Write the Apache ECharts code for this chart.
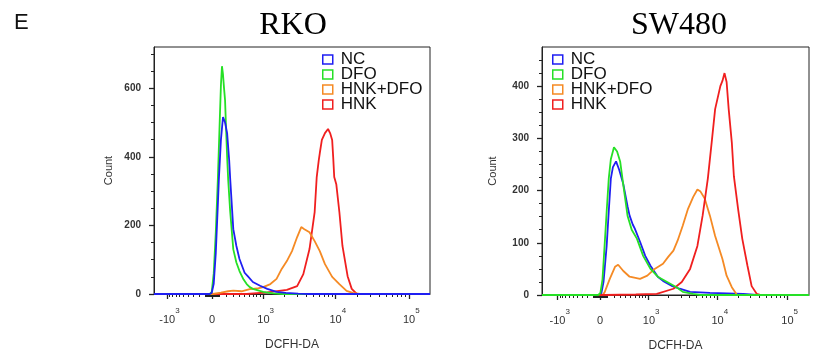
<!DOCTYPE html>
<html>
<head>
<meta charset="UTF-8">
<title>DCFH-DA flow histograms</title>
<script src="https://cdn.jsdelivr.net/npm/echarts@6/dist/echarts.min.js"></script>
<style>
    html, body { margin: 0; padding: 0; background: #fff; }
    #chart { width: 815px; height: 358px; }
</style>
</head>
<body>
<div id="chart"></div>
<script>
    // group names / colours
    const groupNames = ['NC', 'DFO', 'HNK+DFO', 'HNK'];
    const groupColors = ['#1f1ff2', '#26e026', '#f58a24', '#f01f1f'];

    // x tick labels (DCFH-DA intensity) and their text
    const tickValues = [-1000, 0, 1000, 10000, 100000];
    const tickBase = ['-10', '0', '10', '10', '10'];
    const tickExp = ['3', '', '3', '4', '5'];
    // minor tick intensities
    const minorValues = [
        -900, -800, -700, -600, -500, -400, -300, -200, -100,
        -90, -80, -70, -60, -50, -40, -30, -20, -10,
        10, 20, 30, 40, 50, 60, 70, 80, 90,
        100, 200, 300, 400, 500, 600, 700, 800, 900,
        2000, 3000, 4000, 5000, 6000, 7000, 8000, 9000,
        20000, 30000, 40000, 50000, 60000, 70000, 80000, 90000
    ];

    // y ticks
    const rkoYTicks = [0, 200, 400, 600];
    const rkoYMinor = [50, 100, 150, 250, 300, 350, 450, 500, 550, 650, 700];
    const swYTicks = [0, 100, 200, 300, 400];
    const swYMinor = [25, 50, 75, 125, 150, 175, 225, 250, 275, 325, 350, 375, 425, 450];

    // histogram points [channel, count]  --- RKO
    const rkoNC = [[0,0],[54,0],[56,3],[58,30],[60,120],[62,260],[63,335],[65,450],[67,516],[69,500],[71,469],[73,390],[74,335],
        [77,189],[80,140],[83,102],[88,62],[91,52],[96,35],[103,24],[110,15],[119,6],[128,3],[140,1],[150,0],[268,0]];
    const rkoDFO = [[0,0],[54,0],[56,5],[58,60],[60,180],[62,335],[64,520],[65,610],[66,664],[67,640],[68,600],[69,565],
        [70,480],[71,400],[72,335],[74,240],[77,130],[80,92],[83,67],[87,42],[90,29],[93,20],[96,15],[106,6],[116,2],[125,0],[268,0]];
    const rkoHNKDFO = [[0,0],[57,0],[65,4],[72,8],[77,10],[85,8],[93,14],[100,16],[106,20],[113,29],[119,44],[124,73],
        [129,96],[134,125],[139,166],[143,195],[146,189],[151,180],[156,154],[161,125],[166,87],[173,50],[180,29],
        [187,9],[193,3],[200,0],[268,0]];
    const rkoHNK = [[0,0],[90,0],[110,5],[129,12],[139,23],[145,58],[151,131],[156,239],[158,341],[160,390],[161,411],
        [163,449],[166,469],[169,481],[171,469],[173,449],[174,399],[175,341],[177,320],[180,239],[183,140],[188,52],
        [192,15],[197,0],[268,0]];

    // --- SW480
    const swNC = [[0,0],[55,0],[57,4],[59,25],[62,94],[64,160],[66,223],[68,245],[71,256],[74,240],[78,212],[82,170],
        [84,152],[87,135],[89,127],[94,102],[99,75],[104,56],[111,35],[116,27],[125,17],[132,12],[142,6],[161,4],
        [193,2],[206,0],[256,0]];
    const swDFO = [[0,0],[54,0],[56,4],[58,30],[60,94],[62,160],[64,223],[66,260],[69,283],[72,275],[75,255],[78,210],
        [82,152],[86,125],[91,108],[97,75],[104,50],[111,35],[120,25],[129,15],[135,6],[145,2],[152,0],[256,0]];
    const swHNKDFO = [[0,0],[58,0],[60,5],[65,31],[70,54],[73,58],[78,46],[84,35],[94,31],[101,37],[108,50],[116,60],
        [121,73],[126,85],[130,104],[135,133],[140,165],[145,188],[149,202],[152,198],[156,185],[161,152],[166,113],
        [173,69],[177,37],[182,15],[187,0],[256,0]];
    const swHNK = [[0,0],[60,0],[90,1],[110,2],[126,12],[134,25],[142,50],[149,94],[154,152],[159,223],[163,298],
        [166,356],[171,400],[173,410],[175,425],[177,408],[179,356],[182,292],[184,227],[188,165],[192,108],[197,56],
        [201,17],[206,2],[210,0],[256,0]];

    // display scale of each panel (biexponential-like, asinh)
    const rkoScale = { z: 56.3, k: 31, max: 268 };
    const swScale = { z: 55.6, k: 29.1, max: 256 };

    function toChannel(v, s) {
        const a = Math.asinh(Math.abs(v) / 420) * s.k;
        return v < 0 ? s.z - 0.88 * a : s.z + a;
    }

    const font = 'Liberation Sans, Arial, sans-serif';

    function majorX(gi, s) {
        const pos = tickValues.map(v => toChannel(v, s));
        return {
            type: 'value', gridIndex: gi, min: 0, max: s.max, position: 'bottom',
            name: 'DCFH-DA', nameLocation: 'middle', nameGap: 45,
            nameTextStyle: { fontFamily: font, fontSize: 12, color: '#333' },
            axisLine: { show: true, onZero: false, lineStyle: { color: '#222', width: 1 } },
            axisTick: { show: true, customValues: pos, length: 5, lineStyle: { color: '#222', width: 1.3 } },
            axisLabel: {
                show: true, customValues: pos, margin: 13,
                formatter: function (v) {
                    let best = 0;
                    pos.forEach((p, i) => { if (Math.abs(p - v) < Math.abs(pos[best] - v)) best = i; });
                    if (!tickExp[best]) return '{b|' + tickBase[best] + '}';
                    return '{p| }{b|' + tickBase[best] + '}{s|' + tickExp[best] + '}';
                },
                rich: {
                    b: { fontFamily: font, fontSize: 11, color: '#333', lineHeight: 18, verticalAlign: 'bottom' },
                    s: { fontFamily: font, fontSize: 8, color: '#333', lineHeight: 18, verticalAlign: 'top' },
                    p: { fontSize: 8, width: 5 }
                }
            },
            splitLine: { show: false }
        };
    }

    function minorX(gi, s) {
        const pos = minorValues.map(v => toChannel(v, s)).filter(p => p > 0 && p < s.max);
        return {
            type: 'value', gridIndex: gi, min: 0, max: s.max, position: 'bottom',
            axisLine: { show: false, onZero: false },
            axisTick: { show: true, customValues: pos, length: 3, lineStyle: { color: '#222', width: 1 } },
            axisLabel: { show: false },
            splitLine: { show: false }
        };
    }

    function majorY(gi, max, ticks, nameGap) {
        return {
            type: 'value', gridIndex: gi, min: 0, max: max, position: 'left',
            name: 'Count', nameLocation: 'middle', nameGap: nameGap, nameRotate: 90,
            nameTextStyle: { fontFamily: font, fontSize: 11, color: '#333' },
            axisLine: { show: true, lineStyle: { color: '#222', width: 1 } },
            axisTick: { show: true, customValues: ticks, length: 5, lineStyle: { color: '#222', width: 1.3 } },
            axisLabel: { customValues: ticks, margin: 13, fontFamily: font, fontSize: 10, fontWeight: 'bold', color: '#333' },
            splitLine: { show: false }
        };
    }

    function minorY(gi, max, ticks) {
        return {
            type: 'value', gridIndex: gi, min: 0, max: max, position: 'left',
            axisLine: { show: false },
            axisTick: { show: true, customValues: ticks, length: 3, lineStyle: { color: '#222', width: 1 } },
            axisLabel: { show: false },
            splitLine: { show: false }
        };
    }

    function makeSeries(xi, yi, datas, order) {
        return order.map(i => ({
            type: 'line', name: groupNames[i], xAxisIndex: xi, yAxisIndex: yi,
            data: datas[i], symbol: 'none', animation: false,
            lineStyle: { width: 1.8, color: groupColors[i] },
            itemStyle: { color: groupColors[i] }
        }));
    }

    const legendData = groupNames.map((n, i) => ({
        name: n, icon: 'rect',
        itemStyle: { color: 'rgba(0,0,0,0)', borderColor: groupColors[i], borderWidth: 1.5 }
    }));

    function legendAt(left) {
        return {
            left: left, top: 51, padding: 0, orient: 'vertical', selectedMode: false,
            itemWidth: 10, itemHeight: 9, itemGap: -2,
            textStyle: { fontFamily: font, fontSize: 17, color: '#111', padding: [0, 0, 0, 3] },
            data: legendData
        };
    }

    const chart = echarts.init(document.getElementById('chart'), null, { renderer: 'canvas' });
    chart.setOption({
        backgroundColor: '#fff',
        animation: false,
        title: [
            { text: 'E', left: 14, top: 12, padding: 0, textStyle: { fontFamily: font, fontSize: 22, fontWeight: 'normal', color: '#111' } },
            { text: 'RKO', left: 293, top: 10, padding: 0, textAlign: 'center', textStyle: { fontFamily: 'Liberation Serif, serif', fontSize: 32, fontWeight: 'normal', color: '#000' } },
            { text: 'SW480', left: 679, top: 10, padding: 0, textAlign: 'center', textStyle: { fontFamily: 'Liberation Serif, serif', fontSize: 32, fontWeight: 'normal', color: '#000' } }
        ],
        legend: [legendAt(322), legendAt(552)],
        grid: [
            { left: 154, top: 47, width: 276, height: 247, show: true, borderColor: '#222', borderWidth: 1 },
            { left: 542, top: 47, width: 267, height: 248, show: true, borderColor: '#222', borderWidth: 1 }
        ],
        xAxis: [majorX(0, rkoScale), minorX(0, rkoScale), majorX(1, swScale), minorX(1, swScale)],
        yAxis: [majorY(0, 720, rkoYTicks, 40), minorY(0, 720, rkoYMinor), majorY(1, 475, swYTicks, 44), minorY(1, 475, swYMinor)],
        series: [].concat(
            makeSeries(0, 0, [rkoNC, rkoDFO, rkoHNKDFO, rkoHNK], [3, 2, 1, 0]),
            makeSeries(2, 2, [swNC, swDFO, swHNKDFO, swHNK], [0, 2, 3, 1])
        )
    });
</script>
</body>
</html>
